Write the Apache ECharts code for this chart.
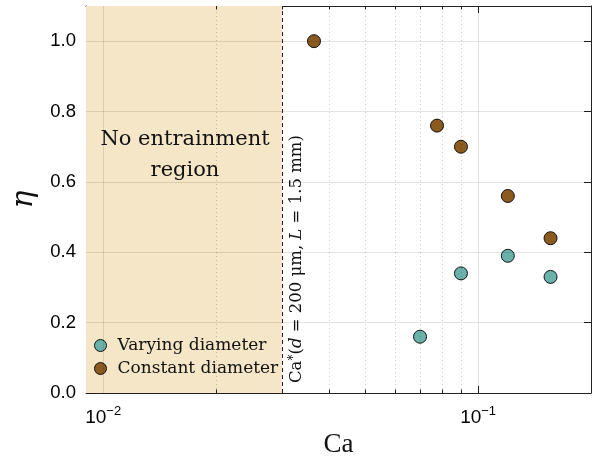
<!DOCTYPE html>
<html>
<head>
<meta charset="utf-8">
<script src="https://cdn.jsdelivr.net/npm/echarts@6/dist/echarts.min.js"></script>
<style>
  html, body { margin: 0; padding: 0; background: #fff; }
  #chart { width: 598px; height: 460px; }
</style>
</head>
<body>
<div id="chart"></div>
<script>
// data
const varyingCa = [0.070, 0.090, 0.120, 0.156]
const varyingEta = [0.16, 0.34, 0.39, 0.33]
const constantCa = [0.0365, 0.0777, 0.090, 0.120, 0.156]
const constantEta = [1.0, 0.76, 0.70, 0.56, 0.44]
const caCritical = 0.03
const caRange = [0.009, 0.2]
const caMajor = [0.01, 0.1]
const caMinor = [0.02, 0.04, 0.05, 0.06, 0.07, 0.08, 0.09]
const etaTicks = [0, 0.2, 0.4, 0.6, 0.8, 1.0]
const etaMax = 1.1

const serif = 'DejaVu Serif'
const sans = 'Liberation Sans'
const axisColor = '#222'
const gridColor = 'rgba(0, 0, 0, 0.11)'
const minorTickLen = 0.01 // in eta units, about 3px

const chart = echarts.init(document.getElementById('chart'))

const zip = (xs, ys) => xs.map((x, i) => [x, ys[i]])

const xLabel = (val) => {
  const p = Math.round(Math.log10(val))
  return '10{sup|−' + Math.abs(p) + '}'
}

const baseX = {
  type: 'log',
  logBase: 10,
  min: caRange[0],
  max: caRange[1],
  splitLine: { show: false },
  axisLine: { show: true, onZero: false, lineStyle: { color: axisColor, width: 1 } },
  axisTick: { show: true, inside: true, length: 7, lineStyle: { color: axisColor } }
}

const baseY = {
  type: 'value',
  min: 0,
  max: etaMax,
  interval: 0.2,
  splitLine: { show: false },
  axisLine: { show: true, onZero: false, lineStyle: { color: axisColor, width: 1 } },
  axisTick: { show: true, inside: true, length: 7, lineStyle: { color: axisColor } }
}

// grid lines drawn as mark lines so they stay visible over the shaded area
const gridLines = [
  ...caMajor.map((v) => ({ xAxis: v })),
  ...etaTicks.slice(1).map((v) => ({ yAxis: v }))
]
const minorTicks = []
caMinor.concat([caCritical]).forEach((v) => {
  minorTicks.push([{ coord: [v, 0] }, { coord: [v, minorTickLen] }])
  minorTicks.push([{ coord: [v, etaMax] }, { coord: [v, etaMax - minorTickLen] }])
})

const option = {
  animation: false,
  grid: { left: 86, right: 7, top: 6, bottom: 67, outerBoundsMode: 'none', containLabel: false },
  legend: {
    orient: 'vertical',
    left: 89,
    top: 332,
    itemWidth: 12,
    itemHeight: 12,
    itemGap: 6,
    icon: 'circle',
    itemStyle: { borderColor: '#111', borderWidth: 1 },
    textStyle: { fontFamily: serif, fontSize: 17, color: '#111', padding: [0, 0, 0, 6] },
    data: ['Varying diameter', 'Constant diameter']
  },
  xAxis: [
    Object.assign({}, baseX, {
      position: 'bottom',
      name: 'Ca',
      nameLocation: 'middle',
      nameGap: 23,
      nameTextStyle: { fontFamily: 'Liberation Serif', fontSize: 27, color: '#111' },
      axisLabel: {
        show: true,
        margin: 12,
        showMinLabel: false,
        showMaxLabel: false,
        formatter: xLabel,
        fontFamily: sans,
        fontSize: 19,
        color: '#000',
        rich: {
          sup: { fontFamily: sans, fontSize: 13, color: '#000', verticalAlign: 'top', padding: [0, 0, 12, 0] }
        }
      }
    }),
    Object.assign({}, baseX, {
      position: 'top',
      axisLabel: { show: false }
    })
  ],
  yAxis: [
    Object.assign({}, baseY, {
      position: 'left',
      name: 'η',
      nameLocation: 'middle',
      nameRotate: 90,
      nameGap: 44,
      nameTextStyle: { fontFamily: serif, fontStyle: 'italic', fontSize: 30, color: '#111' },
      axisLabel: {
        margin: 10,
        showMaxLabel: false,
        fontFamily: sans,
        fontSize: 18.5,
        color: '#000',
        formatter: (v) => v.toFixed(1)
      }
    }),
    Object.assign({}, baseY, {
      position: 'right',
      axisLabel: { show: false }
    })
  ],
  series: [
    {
      name: 'region',
      type: 'scatter',
      z: -2,
      data: [],
      silent: true,
      markArea: {
        silent: true,
        itemStyle: { color: '#f4e6c6' },
        data: [[{ xAxis: caRange[0] }, { xAxis: caCritical }]]
      }
    },
    {
      name: 'grid',
      type: 'scatter',
      z: -1,
      data: [],
      silent: true,
      markLine: {
        silent: true,
        symbol: 'none',
        label: { show: false },
        lineStyle: { color: gridColor, type: 'solid', width: 1 },
        data: gridLines
      }
    },
    {
      name: 'minor grid',
      type: 'scatter',
      z: -1,
      data: [],
      silent: true,
      markLine: {
        silent: true,
        symbol: 'none',
        label: { show: false },
        lineStyle: { color: 'rgba(0, 0, 0, 0.2)', type: [1, 3], width: 1 },
        data: caMinor.map((v) => ({ xAxis: v }))
      }
    },
    {
      name: 'minor ticks',
      type: 'scatter',
      z: 1,
      data: [],
      silent: true,
      markLine: {
        silent: true,
        symbol: 'none',
        label: { show: false },
        lineStyle: { color: axisColor, type: 'solid', width: 1 },
        data: minorTicks
      }
    },
    {
      name: 'critical',
      type: 'scatter',
      z: 1,
      data: [],
      silent: true,
      markLine: {
        silent: true,
        symbol: 'none',
        label: { show: false },
        lineStyle: { color: '#222', type: [4, 3], width: 1 },
        data: [{ xAxis: caCritical }]
      }
    },
    {
      name: 'Varying diameter',
      type: 'scatter',
      z: 3,
      symbolSize: 13,
      itemStyle: { color: '#69b1a9', borderColor: '#111', borderWidth: 1, opacity: 1 },
      data: zip(varyingCa, varyingEta)
    },
    {
      name: 'Constant diameter',
      type: 'scatter',
      z: 3,
      symbolSize: 13,
      itemStyle: { color: '#8b5a1f', borderColor: '#111', borderWidth: 1, opacity: 1 },
      data: zip(constantCa, constantEta)
    }
  ],
  graphic: [
    {
      type: 'text',
      x: 185,
      y: 124,
      z: 10,
      style: {
        text: 'No entrainment\nregion',
        align: 'center',
        fontFamily: serif,
        fontSize: 21,
        lineHeight: 31,
        fill: '#111'
      }
    },
    {
      type: 'text',
      x: 288,
      y: 383,
      z: 10,
      rotation: Math.PI / 2,
      style: {
        text: '{n|Ca}{s|*}{n|(}{i|d}{n| = 200 μm, }{i|L}{n| = 1.5 mm)}',
        rich: {
          n: { fontFamily: serif, fontSize: 16.5, fill: '#111' },
          i: { fontFamily: serif, fontStyle: 'italic', fontSize: 16.5, fill: '#111' },
          s: { fontFamily: serif, fontSize: 12, fill: '#111', verticalAlign: 'top' }
        }
      }
    }
  ]
}

chart.setOption(option)
</script>
</body>
</html>
